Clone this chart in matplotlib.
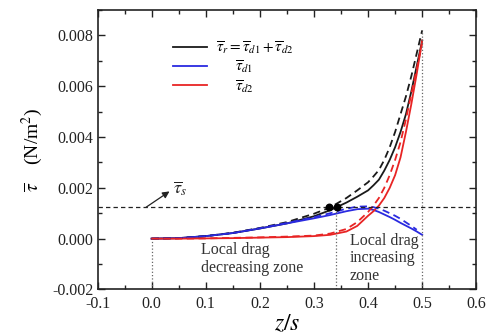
import numpy as np
import matplotlib
matplotlib.use('Agg')
import matplotlib.pyplot as plt
from matplotlib.ticker import MultipleLocator, FormatStrFormatter

plt.rcParams['font.family'] = ['Liberation Serif', 'DejaVu Serif']
plt.rcParams['mathtext.fontset'] = 'stix'

# z/s positions along the span
zs = [0, 0.05, 0.1, 0.15, 0.2, 0.25, 0.3, 0.33, 0.36, 0.38, 0.4, 0.41, 0.42, 0.43, 0.44,
      0.45, 0.46, 0.47, 0.48, 0.49, 0.5]

# total drag tau_r (solid / dashed)
tau_r = [0, 0.00002, 0.0001, 0.00022, 0.0004, 0.0006, 0.00088, 0.00112, 0.00142, 0.00165,
         0.0019, 0.0021, 0.00232, 0.00268, 0.0031, 0.0036, 0.0042, 0.0049, 0.0058, 0.0068, 0.0078]
tau_r_dash = [0, 0.00002, 0.0001, 0.00023, 0.00042, 0.00065, 0.00098, 0.00123, 0.0016, 0.0019,
              0.00222, 0.00245, 0.0027, 0.0031, 0.0036, 0.0042, 0.0049, 0.0056, 0.0064, 0.0073, 0.0082]

# tau_d1
tau_d1 = [0, 0.00002, 0.0001, 0.00022, 0.0004, 0.0006, 0.0008, 0.00093, 0.00108, 0.00116,
          0.00118, 0.00113, 0.00105, 0.00095, 0.00085, 0.00074, 0.00062, 0.00051, 0.0004,
          0.00028, 0.00015]
zs_d1_dash = zs[:-1]
tau_d1_dash = [0, 0.00002, 0.0001, 0.00022, 0.00041, 0.00062, 0.00084, 0.001, 0.00118, 0.00126,
               0.00127, 0.00124, 0.00118, 0.0011, 0.001, 0.0009, 0.00078, 0.00064, 0.0005, 0.00035]

# tau_d2
tau_d2 = [0, 0, 0.00001, 0.00002, 0.00004, 0.00006, 0.0001, 0.00015, 0.00028, 0.0005,
          0.0009, 0.00108, 0.0013, 0.0016, 0.002, 0.0025, 0.0032, 0.0042, 0.0053, 0.0065, 0.0078]
tau_d2_dash = [0, 0, 0.00001, 0.00003, 0.00005, 0.00008, 0.00012, 0.0002, 0.00038, 0.00065,
               0.00105, 0.0013, 0.0016, 0.002, 0.0025, 0.0031, 0.0038, 0.0047, 0.0057, 0.0067, 0.0077]

tau_s = 0.00123
z_cross = [0.327, 0.342]
z_zone = 0.34

fig = plt.figure(figsize=(4.9, 3.35), dpi=100)
ax = fig.add_axes([0.199, 0.136, 0.773, 0.834])

c_k = '#1a1a1a'
c_b = '#2a2ae0'
c_r = '#e82424'
lw = 1.3
dash = (0, (4, 2.5))

ax.plot(zs, tau_r, color=c_k, lw=lw, label=r'$\overline{\tau}_r=\overline{\tau}_{d1}+\overline{\tau}_{d2}$')
ax.plot(zs, tau_d1, color=c_b, lw=lw, label='     ' + r'$\overline{\tau}_{d1}$')
ax.plot(zs, tau_d2, color=c_r, lw=lw, label='     ' + r'$\overline{\tau}_{d2}$')
ax.plot(zs, tau_r_dash, color=c_k, lw=lw, ls=dash)
ax.plot(zs_d1_dash, tau_d1_dash, color=c_b, lw=lw, ls=dash)
ax.plot(zs, tau_d2_dash, color=c_r, lw=lw, ls=dash)

ax.scatter(z_cross, [tau_s, tau_s], s=22, color='black', zorder=5)

# threshold and zone boundaries
ax.axhline(tau_s, color='#222222', lw=0.9, ls=(0, (3.5, 2.5)))
ax.plot([0, 0], [-0.002, 0], color='#666666', lw=0.9, ls=':')
ax.plot([z_zone, z_zone], [-0.002, tau_s], color='#666666', lw=0.9, ls=':')
ax.plot([0.5, 0.5], [-0.002, tau_r_dash[-1]], color='#666666', lw=0.9, ls=':')

ax.annotate('', xy=(0.033, 0.00186), xytext=(-0.01, 0.00124),
            arrowprops=dict(arrowstyle='-|>', color='#222222', lw=0.9, mutation_scale=10,
                            shrinkA=0, shrinkB=0))
ax.text(0.04, 0.00196, r'$\overline{\tau}_s$', fontsize=13, color='#222222',
        ha='left', va='center')

ax.text(0.092, -0.0008, 'Local drag\ndecreasing zone', fontsize=11.5, color='#333333',
        ha='left', va='center', linespacing=1.2)
ax.text(0.366, -0.00078, 'Local drag\nincreasing\nzone', fontsize=11.5, color='#333333',
        ha='left', va='center', linespacing=1.15)

ax.set_xlim(-0.1, 0.6)
ax.set_ylim(-0.002, 0.009)
ax.xaxis.set_major_locator(MultipleLocator(0.1))
ax.xaxis.set_minor_locator(MultipleLocator(0.05))
ax.yaxis.set_minor_locator(MultipleLocator(0.001))
ax.xaxis.set_major_formatter(FormatStrFormatter('%.1f'))
ax.yaxis.set_major_formatter(FormatStrFormatter('%.3f'))
ax.set_yticks(np.arange(-0.002, 0.0081, 0.002))
ax.tick_params(which='both', direction='in', top=True, right=True, labelsize=11.5,
               colors='#222222', pad=3)
ax.tick_params(axis='x', pad=5)
ax.tick_params(which='major', length=5, width=1)
ax.tick_params(which='minor', length=3, width=1)
for s in ax.spines.values():
    s.set_linewidth(1.2)
    s.set_color('#222222')

ax.set_xlabel(r'$z/s$', fontsize=17, labelpad=1)
ax.set_ylabel(r'$\overline{\tau}$    (N/m$^2$)', fontsize=14, labelpad=5)

ax.legend(loc='upper left', bbox_to_anchor=(0.2, 0.895), frameon=False, fontsize=11,
          handlelength=2.2, handletextpad=0.6, labelspacing=0.15, borderpad=0, borderaxespad=0)

fig.savefig('out.png', dpi=100)
